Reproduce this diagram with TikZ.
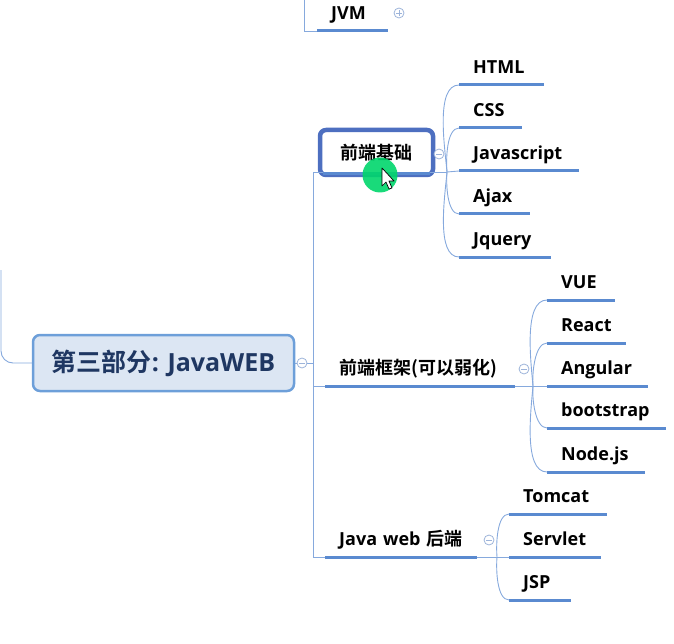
\documentclass[tikz,border=0pt]{standalone}
\usepackage{fontspec}
\setmainfont{Open Sans}[BoldFont={Open Sans Bold}]
\newfontfamily\cjk{Noto Sans CJK SC}[BoldFont={Noto Sans CJK SC Bold}]
\usetikzlibrary{arrows.meta}

\definecolor{ulblue}{HTML}{5A8AD0}
\definecolor{lnblue}{HTML}{86A9DD}
\definecolor{fbline}{HTML}{4D6FC0}
\definecolor{rootline}{HTML}{6D9FD9}
\definecolor{rootfill}{HTML}{DCE6F3}
\definecolor{rootink}{HTML}{1F3762}
\definecolor{tgray}{HTML}{9DB4DA}
\definecolor{hlgreen}{HTML}{00D66C}

\begin{document}
\begin{tikzpicture}[
    x=1pt, y=-1pt,
    every node/.style={font=\fontsize{18}{21}\selectfont\bfseries},
    uline/.style={draw=ulblue, line width=3pt},
    link/.style={draw=lnblue, line width=0.9pt},
    leaf/.style={anchor=south west, inner xsep=14pt, inner ysep=7pt,
        text height=13pt, text depth=4pt, align=left, text width=#1,
        append after command={(\tikzlastnode.south west) edge[uline] (\tikzlastnode.south east)}},
    root/.style={draw=rootline, fill=rootfill, line width=2.5pt, rounded corners=7pt,
        minimum width=261pt, minimum height=56pt, text=rootink,
        font=\fontsize{25}{29}\selectfont\bfseries},
    fbbox/.style={draw=fbline, fill=white, line width=4.5pt, rounded corners=6pt,
        minimum width=113pt, minimum height=45pt},
    minus/.style={circle, draw=tgray, fill=white, line width=0.8pt, minimum size=10pt, inner sep=0pt,
        path picture={\draw[tgray, line width=0.8pt]
            ([xshift=-3pt]path picture bounding box.center) -- ([xshift=3pt]path picture bounding box.center);}},
    plus/.style={minus,
        append after command={([yshift=-3pt]\tikzlastnode.center) edge[tgray, line width=0.8pt] ([yshift=3pt]\tikzlastnode.center)}}
]
    \useasboundingbox (0,0) rectangle (674,644);

    % Junctions
    \coordinate (lt) at (1,270);
    \coordinate (jt) at (304,-2);
    \coordinate (tr) at (313,363);
    \coordinate (fbj) at (447,172);
    \coordinate (fkj) at (533,386);
    \coordinate (jwj) at (497,557);

    % Nodes
    \node[root] (root) at (163.5,363) {{\cjk 第三部分}: JavaWEB};
    \node[leaf=43pt] (jvm) at (317,31) {JVM};
    \node[fbbox] (fb) at (376.5,152.5) {\cjk 前端基础};
    \node[leaf=162pt] (fk) at (325,386) {\cjk 前端框架(可以弱化)};
    \node[leaf=124pt] (jw) at (325,557) {\mbox{Java web {\cjk 后端}}};

    \node[leaf=57pt] (html) at (459,85) {HTML};
    \node[leaf=35pt] (css) at (459,128) {CSS};
    \node[leaf=92pt] (js) at (459,171) {Javascript};
    \node[leaf=43pt] (ajax) at (459,214) {Ajax};
    \node[leaf=64pt] (jq) at (459,257) {Jquery};

    \node[leaf=40pt] (vue) at (547,300) {VUE};
    \node[leaf=51pt] (react) at (547,343) {React};
    \node[leaf=73pt] (ng) at (547,386) {Angular};
    \node[leaf=91pt] (bs) at (547,428) {bootstrap};
    \node[leaf=70pt] (node) at (547,472) {Node.js};

    \node[leaf=70pt] (tomcat) at (509,514) {Tomcat};
    \node[leaf=64pt] (servlet) at (509,557) {Servlet};
    \node[leaf=34pt] (jsp) at (509,600) {JSP};

    % Edges
    \draw[link, rounded corners=12pt] (lt) |- (root.west);
    \draw[link] (jt) |- (jvm.south west);
    \draw[link] (root.east) -- (tr);
    \draw[link] (tr) |- (fbj);
    \draw[link] (tr) |- (fk.south west);
    \draw[link] (tr) |- (jw.south west);
    \draw[uline] ([xshift=5pt,yshift=4pt]fb.south west) -- ([xshift=-5pt,yshift=4pt]fb.south east);

    \draw[link] (fbj) to[out=95, in=180, looseness=0.7] (html.south west);
    \draw[link] (fbj) to[out=95, in=180, looseness=0.7] (css.south west);
    \draw[link] (fbj) -- (js.south west);
    \draw[link] (fbj) to[out=-95, in=180, looseness=0.7] (ajax.south west);
    \draw[link] (fbj) to[out=-95, in=180, looseness=0.7] (jq.south west);

    \draw[link] (fk.south east) -- (fkj);
    \draw[link] (fkj) to[out=95, in=180, looseness=0.7] (vue.south west);
    \draw[link] (fkj) to[out=95, in=180, looseness=0.7] (react.south west);
    \draw[link] (fkj) -- (ng.south west);
    \draw[link] (fkj) to[out=-95, in=180, looseness=0.7] (bs.south west);
    \draw[link] (fkj) to[out=-95, in=180, looseness=0.7] (node.south west);

    \draw[link] (jw.south east) -- (jwj);
    \draw[link] (jwj) to[out=95, in=180, looseness=0.7] (tomcat.south west);
    \draw[link] (jwj) -- (servlet.south west);
    \draw[link] (jwj) to[out=-95, in=180, looseness=0.7] (jsp.south west);

    % Toggles
    \node[plus] (jvmt) at (399,13) {};
    \node[minus] (roott) at (302,363) {};
    \node[minus] (fbt) at (439,154) {};
    \node[minus] (fkt) at (524,369) {};
    \node[minus] (jwt) at (489,540) {};

    % Pointer
    \fill[hlgreen, opacity=0.9] (380,175) circle (17.5);
    \draw[black, fill=white, line width=0.7pt, line join=round]
        (382,168) -- (382,186) -- (386,182) -- (389,189) -- (392,188) -- (389,181) -- (394,181) -- cycle;
\end{tikzpicture}
\end{document}
